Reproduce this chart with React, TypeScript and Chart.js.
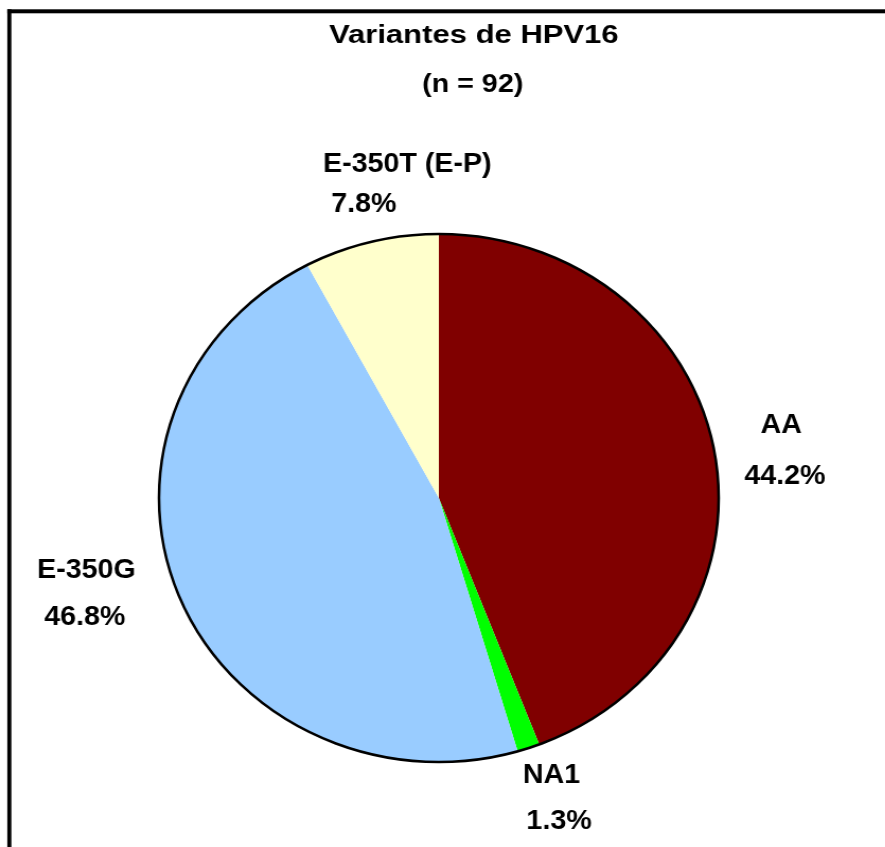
import React, { useEffect, useRef } from "react";
import { Chart, registerables } from "chart.js";

Chart.register(...registerables);

const LABELS = ["AA", "NA1", "E-350G", "E-350T (E-P)"];
const COUNTS = [34, 1, 36, 6];
const COLORS = ["#800000", "#00FF00", "#99CCFF", "#FFFFCC"];
const TITLE_LINES = ["Variantes de HPV16", "(n = 92)"];

// per-label line offsets [line1 [dx,dy], line2 [dx,dy]] from the radial anchor
const LABEL_OFFSETS = [
  [[4.5, -6.3], [8, 44.7]],
  [[2.4, -22.2], [9.5, 23.8]],
  [[-32.6, -42.4], [-34.1, 4.6]],
  [[48.8, -11.2], [7.8, 28.8]],
];

const SX = 1.06;
const W = 835;
const H = 847;
const FONT = '"Liberation Sans", Arial, Helvetica, sans-serif';

function stretchedText(ctx: any, text: string, x: number, y: number, k: number) {
  ctx.save();
  ctx.translate(x, y);
  ctx.scale(k, 1);
  ctx.fillText(text, 0, 0);
  ctx.restore();
}

const deco = {
  id: "deco",
  beforeDraw(chart: any) {
    const ctx = chart.ctx;
    ctx.save();
    ctx.fillStyle = "#ffffff";
    ctx.fillRect(0, 0, chart.width, chart.height);
    ctx.fillStyle = "#000000";
    ctx.fillRect(6.9, 9.3, chart.width, 4);
    ctx.fillRect(6.9, 9.3, 3.8, chart.height);
    ctx.restore();
  },
  afterDatasetsDraw(chart: any) {
    const ctx = chart.ctx;
    const meta = chart.getDatasetMeta(0);
    const total = COUNTS.reduce((a, b) => a + b, 0);
    ctx.save();
    // outline
    const a0 = meta.data[0].getProps(["x", "y", "outerRadius"], true);
    ctx.beginPath();
    ctx.arc(a0.x, a0.y, a0.outerRadius, 0, Math.PI * 2);
    ctx.lineWidth = 2.5;
    ctx.strokeStyle = "#000";
    ctx.stroke();

    // labels
    ctx.fillStyle = "#000";
    ctx.font = `bold 27px ${FONT}`;
    ctx.textAlign = "center";
    ctx.textBaseline = "alphabetic";
    meta.data.forEach((arc: any, i: number) => {
      const p = arc.getProps(["x", "y", "startAngle", "endAngle", "outerRadius"], true);
      const mid = (p.startAngle + p.endAngle) / 2;
      const d = p.outerRadius + 60;
      const bx = p.x + Math.cos(mid) * d;
      const by = p.y + Math.sin(mid) * d;
      const pct = ((COUNTS[i] / total) * 100).toFixed(1) + "%";
      const off = LABEL_OFFSETS[i];
      ctx.fillText(LABELS[i], bx + off[0][0], by + off[0][1]);
      ctx.fillText(pct, bx + off[1][0], by + off[1][1]);
    });

    // title
    ctx.font = `bold 25px ${FONT}`;
    stretchedText(ctx, TITLE_LINES[0], 447, 43, 1.17);
    stretchedText(ctx, TITLE_LINES[1], 446, 92, 1.08);
    ctx.restore();
  },
};

export default function App() {
  const ref = useRef<HTMLCanvasElement | null>(null);
  useEffect(() => {
    if (!ref.current) return;
    const chart = new Chart(ref.current, {
      type: "pie",
      data: {
        labels: LABELS,
        datasets: [
          {
            data: COUNTS,
            backgroundColor: COLORS,
            borderWidth: 0,
          },
        ],
      },
      options: {
        animation: false,
        responsive: false,
        devicePixelRatio: 1,
        layout: { padding: { left: 150, right: 157, top: 234, bottom: 85 } },
        plugins: {
          legend: { display: false },
          tooltip: { enabled: false },
          title: { display: false },
        },
      },
      plugins: [deco],
    });
    return () => chart.destroy();
  }, []);
  return (
    <div
      style={{
        position: "absolute",
        left: 0,
        top: 0,
        width: W,
        height: H,
        transform: `scaleX(${SX})`,
        transformOrigin: "0 0",
        overflow: "hidden",
      }}
    >
      <canvas ref={ref} width={W} height={H} style={{ display: "block" }} />
    </div>
  );
}
